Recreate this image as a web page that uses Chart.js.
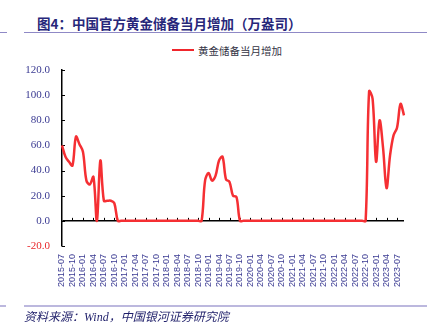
<!DOCTYPE html>
<html>
<head>
<meta charset="utf-8">
<script src="https://cdn.jsdelivr.net/npm/chart.js@4.4.0/dist/chart.umd.min.js"></script>
<style>
  body { margin: 0; background: #fff; }
  #wrap { position: relative; width: 431px; height: 330px; overflow: hidden; }
  #wrap canvas { position: absolute; left: 0; top: 0; }
  .title {
    position: absolute; left: 37px; top: 13px;
    font: bold 13.5px "Noto Sans CJK SC", sans-serif; color: #27277a;
    white-space: nowrap;
  }
  .rule { position: absolute; height: 1px; background: #8f89c6; }
  .rule.thick { height: 2px; background: #bcb8de; }
  .legend {
    position: absolute; left: 172px; top: 43px; height: 14px;
    font: 10.5px "Noto Sans CJK SC", sans-serif; color: #333344;
    display: flex; align-items: center; white-space: nowrap;
  }
  .legend i { display: inline-block; width: 22px; height: 2px; background: #f0262c; margin-right: 4px; }
  .source {
    position: absolute; left: 24px; top: 307px;
    font: italic 12px "Liberation Serif", "Noto Sans CJK SC", serif; color: #1f1f6a;
    white-space: nowrap;
  }
</style>
</head>
<body>
<div id="wrap">
  <div class="title">图4：中国官方黄金储备当月增加（万盎司）</div>
  <div class="rule" style="left:0;width:7px;top:32px"></div>
  <div class="rule" style="left:24px;width:403px;top:32px"></div>
  <div class="legend"><i></i>黄金储备当月增加</div>
  <canvas id="c" width="431" height="330"></canvas>
  <div class="rule thick" style="left:0;width:6px;top:305px"></div>
  <div class="rule thick" style="left:24px;width:403px;top:305px"></div>
  <div class="source">资料来源：Wind，中国银河证券研究院</div>
</div>
<script>
// monthly gold reserve additions, 万盎司, 2015-07 .. 2023-09
const startYear = 2015, startMonth = 7;
const goldAdded = [
  60, 51, 47, 44, 67, 61, 55, 32, 29, 35, 0, 48, 16, 16, 16, 14, 0,
  0, 0, 0, 0, 0, 0, 0, 0, 0, 0, 0, 0, 0, 0, 0, 0, 0, 0, 0, 0, 0, 0, 0,
  0,
  32, 38, 32, 36, 48, 51, 33, 31, 20, 19,
  0, 0, 0, 0, 0, 0, 0, 0, 0, 0, 0, 0, 0, 0, 0, 0, 0, 0, 0, 0, 0, 0, 0, 0,
  0, 0, 0, 0, 0, 0, 0, 0, 0, 0, 0, 0, 0,
  103, 97, 47, 80, 58, 26, 52, 68, 74, 93, 84
];
const yTicks = { min: -20, max: 120, step: 20 };

const months = goldAdded.map((_, i) => {
  const m = startMonth - 1 + i;
  const y = startYear + Math.floor(m / 12);
  return y + "-" + String((m % 12) + 1).padStart(2, "0");
});

const LINE_RED = "#f52f33";
const AXIS_BLUE = "#3a3a92";
const NEG_RED = "#e8262a";

// axis line ticks: inward on y, upward on the zero line for x
const axisMarks = {
  id: "axisMarks",
  beforeDatasetsDraw(chart) {
    const { ctx, scales: { x, y } } = chart;
    const y0 = y.getPixelForValue(0);
    ctx.save();
    ctx.strokeStyle = "#000";
    ctx.lineWidth = 1;
    for (let i = 3; i < months.length; i += 3) {
      const px = Math.round(x.getPixelForValue(i)) + 0.5;
      ctx.beginPath();
      ctx.moveTo(px, y0);
      ctx.lineTo(px, y0 - 3);
      ctx.stroke();
    }
    const left = chart.chartArea.left;
    for (let v = yTicks.min; v <= yTicks.max; v += yTicks.step) {
      const py = Math.round(y.getPixelForValue(v)) + 0.5;
      ctx.beginPath();
      ctx.moveTo(left, py);
      ctx.lineTo(left + 3, py);
      ctx.stroke();
    }
    ctx.restore();
  }
};

new Chart(document.getElementById("c"), {
  type: "line",
  data: {
    labels: months,
    datasets: [{
      label: "黄金储备当月增加",
      data: goldAdded,
      borderColor: LINE_RED,
      borderWidth: 2.5,
      pointRadius: 0,
      tension: 0.35,
      fill: false,
    }],
  },
  options: {
    responsive: false,
    animation: false,
    devicePixelRatio: 1,
    layout: { padding: { top: 70, right: 27, bottom: 0, left: 0 } },
    plugins: { legend: { display: false }, tooltip: { enabled: false } },
    scales: {
      x: {
        afterFit(s) { s.height = 84; },
        grid: { display: false, drawTicks: false },
        border: { display: false },
        ticks: {
          autoSkip: false,
          minRotation: 90,
          maxRotation: 90,
          padding: 8,
          color: AXIS_BLUE,
          font: { family: "'Liberation Sans', Arial, sans-serif", size: 9 },
          callback(v, i) { return i % 3 === 0 ? months[i] : ""; },
        },
      },
      y: {
        min: yTicks.min,
        max: yTicks.max,
        afterFit(s) { s.width = 62; },
        grid: {
          drawTicks: false,
          lineWidth: 1.5,
          color: (c) => (c.tick && c.tick.value === 0 ? "#000" : "transparent"),
        },
        border: { display: true, color: "#000", width: 1.5 },
        ticks: {
          stepSize: yTicks.step,
          padding: 12,
          color: (c) => (c.tick && c.tick.value < 0 ? NEG_RED : AXIS_BLUE),
          font: { family: "'Liberation Serif', 'Times New Roman', serif", size: 11 },
          callback: (v) => v.toFixed(1),
        },
      },
    },
  },
  plugins: [axisMarks],
});
</script>
</body>
</html>
